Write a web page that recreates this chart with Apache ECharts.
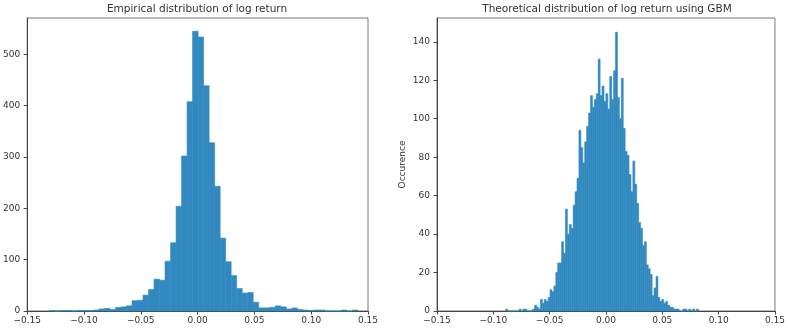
<!DOCTYPE html>
<html>
<head>
<meta charset="utf-8">
<script src="https://cdn.jsdelivr.net/npm/echarts@6/dist/echarts.min.js"></script>
<style>
  html, body { margin: 0; padding: 0; background: #fff; }
  #chart { width: 788px; height: 330px; }
</style>
</head>
<body>
<div id="chart"></div>
<script>
// empirical histogram: bin start, bin width, counts
const empStart = -0.1305;
const empWidth = 0.00485;
const empCounts = [
  1, 0, 1, 1, 0, 1, 1, 1, 2, 4, 5, 3, 7, 8, 10, 20, 21, 31, 42, 62,
  60, 97, 133, 204, 302, 408, 545, 534, 439, 328, 243, 142, 96, 69, 44, 35,
  36, 17, 6, 6, 7, 10, 8, 4, 6, 3, 2, 1, 2, 2, 0, 0, 0, 2, 0, 2
];

// GBM histogram
const gbmStart = -0.089;
const gbmWidth = 0.00171;
const gbmCounts = [
  1, 0, 0, 0, 0, 0, 0, 1, 0, 1, 1, 0, 0, 0, 1, 3, 2, 1, 6, 4,
  6, 5, 7, 11, 10, 13, 20, 25, 25, 36, 30, 53, 40, 45, 43, 55, 62, 69, 94, 85,
  77, 88, 96, 103, 112, 106, 110, 113, 131, 112, 117, 109, 113, 105, 122, 110, 125, 145, 111, 100,
  121, 95, 83, 81, 71, 62, 78, 66, 56, 46, 43, 34, 36, 24, 22, 19, 8, 12, 18, 7,
  5, 6, 4, 5, 3, 2, 2, 1, 1, 1, 0, 0, 1, 1, 0, 1, 0, 1, 0, 1
];

const barColor = '#3189c0';
const textColor = '#333';
const font = 'DejaVu Sans';

function binsToData(start, width, counts) {
  return counts.map((c, i) => [start + i * width, start + (i + 1) * width, c]);
}

function renderBin(params, api) {
  const p0 = api.coord([api.value(0), api.value(2)]);
  const p1 = api.coord([api.value(1), 0]);
  return {
    type: 'rect',
    shape: { x: p0[0], y: p0[1], width: p1[0] - p0[0], height: p1[1] - p0[1] },
    style: { fill: barColor, stroke: barColor, lineWidth: 0.6 }
  };
}

function fmtX(v) {
  const s = Math.abs(v).toFixed(2);
  return v < -1e-9 ? '\u2212' + s : s;
}

function makeX(idx) {
  return {
    type: 'value', gridIndex: idx, min: -0.15, max: 0.15, interval: 0.05,
    splitLine: { show: false },
    axisLine: { show: true, onZero: false, lineStyle: { color: '#444', width: 1 } },
    axisTick: { show: true, length: 3.5, lineStyle: { color: '#444' } },
    axisLabel: { formatter: fmtX, fontSize: 9, color: textColor, fontFamily: font, margin: 5, showMinLabel: true, showMaxLabel: true }
  };
}

function makeY(idx, max, interval) {
  return {
    type: 'value', gridIndex: idx, min: 0, max: max, interval: interval,
    splitLine: { show: false },
    axisLine: { show: true, onZero: false, lineStyle: { color: '#444', width: 1 } },
    axisTick: { show: true, length: 3.5, lineStyle: { color: '#444' } },
    axisLabel: { fontSize: 9, color: textColor, fontFamily: font, margin: 7, showMaxLabel: false }
  };
}

const chart = echarts.init(document.getElementById('chart'));

const yRight = makeY(1, 152.4, 20);
yRight.name = 'Occurence';
yRight.nameLocation = 'middle';
yRight.nameRotate = 90;
yRight.nameGap = 30;
yRight.nameTextStyle = { fontSize: 9, color: textColor, fontFamily: font };

chart.setOption({
  animation: false,
  title: [
    { text: 'Empirical distribution of log return', left: 197, top: 4, padding: 0, textAlign: 'center',
      textStyle: { fontSize: 10.5, fontWeight: 'normal', color: textColor, fontFamily: font } },
    { text: 'Theoretical distribution of log return using GBM', left: 607, top: 4, padding: 0, textAlign: 'center',
      textStyle: { fontSize: 10.5, fontWeight: 'normal', color: textColor, fontFamily: font } }
  ],
  grid: [
    { left: 26, top: 18, width: 342, height: 293, show: true, borderColor: '#777', borderWidth: 1 },
    { left: 437, top: 18, width: 341, height: 293, show: true, borderColor: '#777', borderWidth: 1 }
  ],
  xAxis: [makeX(0), makeX(1)],
  yAxis: [makeY(0, 571, 100), yRight],
  series: [
    { type: 'custom', xAxisIndex: 0, yAxisIndex: 0, renderItem: renderBin,
      encode: { x: [0, 1], y: 2 }, data: binsToData(empStart, empWidth, empCounts) },
    { type: 'custom', xAxisIndex: 1, yAxisIndex: 1, renderItem: renderBin,
      encode: { x: [0, 1], y: 2 }, data: binsToData(gbmStart, gbmWidth, gbmCounts) }
  ]
});
</script>
</body>
</html>
